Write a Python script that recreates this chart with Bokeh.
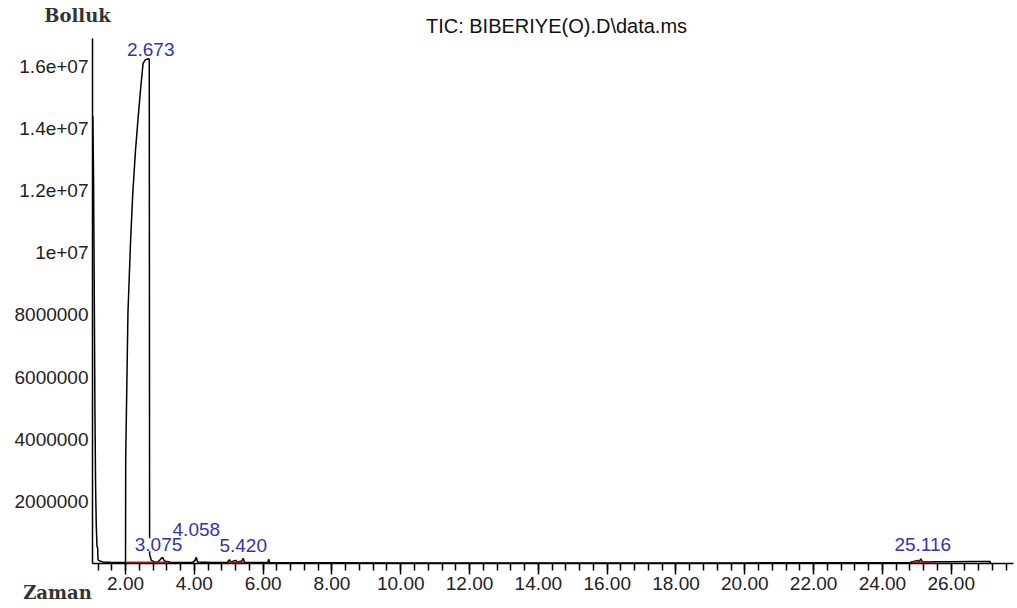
import numpy as np
from bokeh.plotting import figure
from bokeh.core.properties import value
from bokeh.models import (Range1d, FixedTicker, NumeralTickFormatter, Label,
                          LabelSet, ColumnDataSource)
from bokeh.embed import file_html
from bokeh.resources import INLINE

# ---------------- data ----------------
retention_time = [1.05, 1.07, 1.09, 1.11, 1.13, 1.15, 1.17, 1.19, 1.20, 1.25, 1.35, 1.60, 1.90,
                  2.00, 2.005, 2.07, 2.145, 2.21, 2.29, 2.37, 2.44, 2.51, 2.58, 2.673, 2.69, 2.70,
                  2.75, 2.85, 2.95, 3.02, 3.075, 3.13, 3.30, 3.60, 3.95, 4.02, 4.058, 4.09, 4.50,
                  4.95, 5.02, 5.06, 5.20, 5.25, 5.38, 5.42, 5.46, 6.00, 6.14, 6.16, 6.19, 10.0,
                  15.0, 20.0, 24.80, 25.02, 25.06, 25.116, 25.16, 25.50, 26.00, 26.60, 27.13, 27.14]
abundance = [14.4e6, 12.5e6, 9.0e6, 5.0e6, 2.5e6, 1.2e6, 0.55e6, 0.5e6, 0.12e6, 0.08e6, 0.05e6, 0.03e6, 0.03e6,
             0.04e6, 3.38e6, 8.05e6, 10.33e6, 11.9e6, 13.3e6, 14.4e6, 15.3e6, 16.1e6, 16.22e6, 16.25e6, 16.22e6, 0.3e6,
             0.1e6, 0.05e6, 0.06e6, 0.14e6, 0.2e6, 0.08e6, 0.04e6, 0.03e6, 0.03e6, 0.1e6, 0.2e6, 0.05e6, 0.03e6,
             0.03e6, 0.12e6, 0.05e6, 0.1e6, 0.05e6, 0.08e6, 0.17e6, 0.04e6, 0.03e6, 0.03e6, 0.14e6, 0.03e6, 0.02e6,
             0.02e6, 0.02e6, 0.03e6, 0.1e6, 0.05e6, 0.15e6, 0.06e6, 0.06e6, 0.06e6, 0.065e6, 0.065e6, 0.0]

peak_rt = [2.673, 3.075, 4.058, 5.420, 25.116]
peak_height = [16.25e6, 0.2e6, 0.2e6, 0.17e6, 0.15e6]
peak_label = ["2.673", "3.075", "4.058", "5.420", "25.116"]

integ_start = [2.00, 4.97, 24.88]
integ_end = [3.20, 5.45, 25.49]

y_ticks = [2000000, 4000000, 6000000, 8000000, 10000000, 12000000, 14000000, 16000000]
y_tick_labels = ["2000000", "4000000", "6000000", "8000000", "1e+07", "1.2e+07", "1.4e+07", "1.6e+07"]
x_ticks = [2, 4, 6, 8, 10, 12, 14, 16, 18, 20, 22, 24, 26]

title_text = "TIC: BIBERIYE(O).D\\data.ms"
y_title = "Bolluk"
x_title = "Zaman"

# ---------------- layout / style ----------------
W, H = 1017, 608
AX_LEFT_PX, AX_RIGHT_PX = 92, 1013      # where the axes lie on the canvas
AX_TOP_PX, AX_BOTTOM_PX = 38, 563
X0, X1 = 1.04, 27.81                    # time span of the x axis
Y0, Y1 = 0.0, 16.9e6                    # abundance span of the y axis

# the plotting frame fills the whole canvas; axes are pinned with fixed_location
sx = (X1 - X0) / (AX_RIGHT_PX - AX_LEFT_PX)
sy = (Y1 - Y0) / (AX_BOTTOM_PX - AX_TOP_PX)
xr = Range1d(X0 - AX_LEFT_PX * sx, X1 + (W - AX_RIGHT_PX) * sx)
yr = Range1d(Y0 - (H - AX_BOTTOM_PX) * sy, Y1 + AX_TOP_PX * sy)

FONT = "Liberation Sans"
SERIF = "DejaVu Serif"
LABEL_BLUE = "#3333aa"

p = figure(width=W, height=H, output_backend="svg", toolbar_location=None,
           x_range=xr, y_range=yr,
           min_border_left=0, min_border_right=0, min_border_top=0, min_border_bottom=0)
p.outline_line_color = None
p.xgrid.visible = False
p.ygrid.visible = False
p.background_fill_color = "white"
p.border_fill_color = "white"

# trace
p.line(retention_time, abundance, line_color="black", line_width=1.5)

# integration baselines (red)
p.segment(x0=integ_start, y0=[0.035e6] * len(integ_start), x1=integ_end,
          y1=[0.035e6] * len(integ_end), line_color="#cc2222", line_width=2)

# peak labels (white box behind each, as in the instrument print-out)
lift_px = [3, 6, 21, 6, 8]
shift_px = [2, -4, 0, 0, 2]
src = ColumnDataSource(dict(x=peak_rt, y=peak_height, text=peak_label, yo=lift_px, xo=shift_px))
p.add_layout(LabelSet(x="x", y="y", text="text", source=src, y_offset="yo", x_offset="xo",
                      text_align="center", text_baseline="alphabetic",
                      text_font=value(FONT), text_font_size=value("19px"),
                      text_color=LABEL_BLUE, background_fill_color="white"))

# x axis
xa = p.xaxis[0]
xa.fixed_location = Y0
xa.bounds = (X0, X1)
xa.ticker = FixedTicker(ticks=x_ticks, minor_ticks=list(np.round(np.arange(1.2, 27.65, 0.4), 2)))
xa.formatter = NumeralTickFormatter(format="0.00")
xa.axis_line_color = "black"
xa.axis_line_width = 1.5
xa.major_tick_out = 11
xa.major_tick_in = 0
xa.minor_tick_out = 7
xa.minor_tick_in = 0
xa.major_tick_line_width = 1.5
xa.minor_tick_line_width = 1.5
xa.major_label_standoff = 2
xa.major_label_text_font = FONT
xa.major_label_text_font_size = "19px"
xa.major_label_text_color = "#222222"

# y axis
ya = p.yaxis[0]
ya.fixed_location = X0
ya.bounds = (Y0, Y1)
ya.ticker = FixedTicker(ticks=y_ticks)
ya.major_label_overrides = {t: s for t, s in zip(y_ticks, y_tick_labels)}
ya.axis_line_color = "black"
ya.axis_line_width = 1.5
ya.major_tick_out = 0
ya.major_tick_in = 0
ya.minor_tick_out = 0
ya.minor_tick_in = 0
ya.major_label_standoff = 4
ya.major_label_text_font = FONT
ya.major_label_text_font_size = "19px"
ya.major_label_text_color = "#222222"

# titles (anchored to the axes' corners, shifted in pixels)
p.add_layout(Label(x=X0, y=Y1, x_offset=464, y_offset=13, text=title_text,
                   text_align="center", text_baseline="middle", text_font=FONT,
                   text_font_size="20px", text_color="#111111"))
p.add_layout(Label(x=X0, y=Y1, x_offset=-15, y_offset=23, text=y_title,
                   text_align="center", text_baseline="middle", text_font=SERIF,
                   text_font_size="18px", text_font_style="bold", text_color="#333333"))
p.add_layout(Label(x=X0, y=Y0, x_offset=-35, y_offset=-29, text=x_title,
                   text_align="center", text_baseline="middle", text_font=SERIF,
                   text_font_size="18px", text_font_style="bold", text_color="#333333"))

open("out.html", "w").write(file_html(p, INLINE))
